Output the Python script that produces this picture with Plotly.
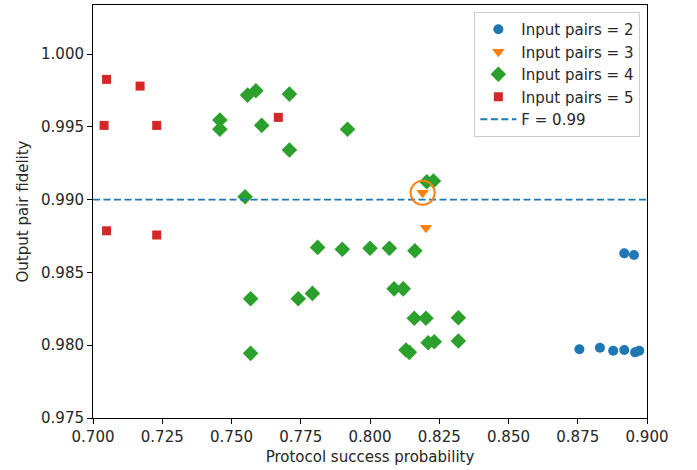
import plotly.graph_objects as go

# ---- data ----
p2_x = [0.8756, 0.8830, 0.8878, 0.8918, 0.8957, 0.8972, 0.8918, 0.8953]
p2_y = [0.97972, 0.97983, 0.97962, 0.97967, 0.97951, 0.97962, 0.98631, 0.98620]

p3_x = [0.8190, 0.8202]
p3_y = [0.99047, 0.98807]

p4_x = [0.7458, 0.7458, 0.7558, 0.7588, 0.7709, 0.7609, 0.7709, 0.7919, 0.7549,
        0.8205, 0.8229, 0.7811, 0.7900, 0.8000, 0.8070, 0.8162, 0.7569, 0.7741,
        0.7792, 0.8087, 0.8120, 0.7569, 0.8130, 0.8142, 0.8160, 0.8202, 0.8319,
        0.8210, 0.8232, 0.8319]
p4_y = [0.99547, 0.99483, 0.99718, 0.99748, 0.99725, 0.99510, 0.99341, 0.99483, 0.99020,
        0.99123, 0.99128, 0.98672, 0.98659, 0.98666, 0.98666, 0.98649, 0.98319, 0.98319,
        0.98356, 0.98387, 0.98387, 0.97944, 0.97967, 0.97951, 0.98185, 0.98185, 0.98189,
        0.98017, 0.98024, 0.98029]

p5_x = [0.7049, 0.7170, 0.7040, 0.7230, 0.7669, 0.7049, 0.7230]
p5_y = [0.99826, 0.99780, 0.99510, 0.99510, 0.99565, 0.98786, 0.98757]

threshold = 0.99
highlight_x = [0.8190]
highlight_y = [0.99047]

x_range = [0.7, 0.9]
y_range = [0.975, 1.00337]
x_ticks = [0.700, 0.725, 0.750, 0.775, 0.800, 0.825, 0.850, 0.875, 0.900]
y_ticks = [0.975, 0.980, 0.985, 0.990, 0.995, 1.000]

fig = go.Figure()
fig.add_trace(go.Scatter(x=p2_x, y=p2_y, mode="markers", name="Input pairs = 2", legendgroup="g2",
                         marker=dict(symbol="circle", size=10, color="#1f77b4")))
fig.add_trace(go.Scatter(x=p3_x, y=p3_y, mode="markers", name="Input pairs = 3", legendgroup="g3",
                         marker=dict(symbol="triangle-down", size=11, color="#ff7f0e")))
fig.add_trace(go.Scatter(x=p4_x, y=p4_y, mode="markers", name="Input pairs = 4", legendgroup="g4",
                         marker=dict(symbol="diamond", size=12, color="#2ca02c")))
fig.add_trace(go.Scatter(x=p5_x, y=p5_y, mode="markers", name="Input pairs = 5", legendgroup="g5",
                         marker=dict(symbol="square", size=9, color="#d62728")))
fig.add_trace(go.Scatter(x=x_range, y=[threshold, threshold], mode="lines", name="F = 0.99",
                         legendgroup="g6",
                         line=dict(color="#1f77b4", dash="7px,3.5px", width=1.8)))
fig.add_trace(go.Scatter(x=highlight_x, y=highlight_y, mode="markers", showlegend=False,
                         marker=dict(symbol="circle-open", size=24, color="#ff7f0e",
                                     line=dict(width=2, color="#ff7f0e"))))

axis_common = dict(showline=True, linecolor="black", linewidth=1, mirror=True,
                   ticks="outside", ticklen=5, tickcolor="black", showgrid=False,
                   zeroline=False, tickfont=dict(size=15, color="#262626"))
fig.update_xaxes(range=x_range, tickvals=x_ticks, tickformat=".3f",
                 title=dict(text="Protocol success probability", font=dict(size=15, color="#262626"), standoff=6),
                 **axis_common)
fig.update_yaxes(range=y_range, tickvals=y_ticks, tickformat=".3f",
                 title=dict(text="Output pair fidelity", font=dict(size=15, color="#262626"), standoff=8),
                 **axis_common)

fig.update_layout(
    width=697, height=470,
    margin=dict(l=93, r=50, t=5, b=52),
    plot_bgcolor="white", paper_bgcolor="white",
    font=dict(family="DejaVu Sans", size=15, color="#262626"),
    legend=dict(x=0.988, y=0.983, xanchor="right", yanchor="top",
                bordercolor="#cccccc", borderwidth=1, bgcolor="white",
                font=dict(size=15), tracegroupgap=0, itemwidth=36),
)

fig.write_html("out.html")
